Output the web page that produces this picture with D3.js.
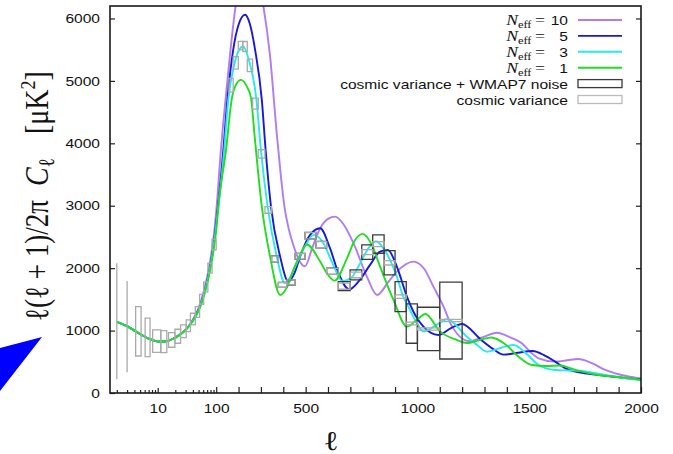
<!DOCTYPE html>
<html>
<head>
<meta charset="utf-8">
<script src="https://cdn.jsdelivr.net/npm/d3@7"></script>
<style>
  body { margin: 0; background: #fff; }
  svg { display: block; }
  .lbl { font-family: "Liberation Sans", Arial, Helvetica, sans-serif; font-size: 13.2px; fill: #111; }
  .serif { font-family: "Liberation Serif", "DejaVu Serif", serif; fill: #111; }
</style>
</head>
<body>
<svg id="chart" width="673" height="454"></svg>
<script>
// ---- data: [multipole l, l(l+1)C_l/2pi in uK^2] ----
// low-l part is shared by all four models
const lowEll = [[2, 1140], [3, 1070], [4, 1000], [5, 945], [7, 870], [9, 835], [11, 822],
  [14, 830], [18, 865], [24, 935], [30, 1010]];

const neff10 = [[40, 1175], [50, 1360], [60, 1600], [70, 1860], [80, 2150], [90, 2480], [100, 2900],
  [121, 3895], [150, 5000], [187, 6200], [215, 6680], [250, 6900], [280, 6740], [311, 6200],
  [340, 5430], [371, 4150], [390, 3450], [405, 2990], [425, 2620], [445, 2370], [470, 2130],
  [497, 2030], [530, 2330], [565, 2640], [600, 2790], [632, 2826], [670, 2700], [714, 2400],
  [774, 1864], [820, 1571], [870, 1780], [908, 1944], [982, 2105], [1030, 1990], [1072, 1700],
  [1117, 1383], [1150, 1100], [1176, 957], [1230, 830], [1290, 890], [1356, 965], [1410, 900],
  [1467, 797], [1510, 640], [1542, 556], [1617, 502], [1670, 525], [1718, 545], [1780, 480],
  [1840, 369], [1900, 300], [1950, 260], [2000, 232]];

const neff5 = [[40, 1165], [50, 1335], [60, 1550], [70, 1790], [80, 2060], [90, 2370], [100, 2720],
  [132, 3895], [150, 4697], [176, 5498], [200, 5900], [229, 6060], [250, 5920], [274, 5498],
  [304, 4697], [321, 3895], [345, 2986], [386, 2185], [423, 1784], [450, 1920], [475, 2185],
  [520, 2533], [565, 2640], [609, 2320], [647, 1919], [695, 1660], [740, 1800], [788, 2052],
  [833, 2265], [868, 2290], [908, 2025], [953, 1544], [990, 1250], [1027, 1063], [1094, 930],
  [1150, 1040], [1199, 1106], [1285, 850], [1344, 690], [1385, 615], [1450, 645], [1515, 673],
  [1570, 600], [1616, 502], [1660, 400], [1706, 342], [1760, 310], [1810, 289], [1900, 251],
  [2000, 219]];

const neff3 = [[40, 1160], [50, 1325], [60, 1540], [70, 1775], [80, 2040], [90, 2340], [100, 2680],
  [136, 3895], [154, 4697], [180, 5250], [200, 5480], [221, 5551], [245, 5350], [280, 4697],
  [300, 3895], [330, 2986], [371, 2185], [407, 1760], [430, 1850], [460, 2079], [505, 2400],
  [535, 2533], [580, 2400], [617, 2105], [665, 1790], [705, 1850], [744, 2079], [781, 2320],
  [815, 2430], [860, 2250], [908, 1864], [935, 1560], [967, 1330], [1000, 1100], [1027, 983],
  [1080, 1080], [1132, 1181], [1221, 902], [1270, 760], [1311, 662], [1370, 720], [1430, 769],
  [1490, 620], [1542, 449], [1580, 390], [1617, 369], [1680, 360], [1736, 353], [1790, 320],
  [1840, 289], [1930, 235], [2000, 208]];

const neff1 = [[40, 1155], [50, 1315], [60, 1520], [70, 1750], [80, 2000], [90, 2280], [100, 2600],
  [110, 3000], [144, 3895], [169, 4697], [190, 4950], [211, 5017], [235, 4925], [256, 4720],
  [271, 4150], [304, 2986], [341, 2185], [386, 1571], [420, 1720], [445, 1972], [475, 2212],
  [505, 2380], [565, 2105], [595, 1919], [630, 1800], [684, 2150], [721, 2450], [755, 2550],
  [795, 2380], [833, 2025], [893, 1491], [953, 1063], [1000, 1180], [1035, 1265], [1102, 983],
  [1176, 850], [1220, 800], [1280, 850], [1330, 890], [1390, 790], [1452, 582], [1512, 449],
  [1572, 433], [1640, 440], [1690, 390], [1736, 342], [1810, 289], [1877, 265], [1940, 240],
  [2000, 208]];

const neffLabels = ['10', '5', '3', '1'];
const neffColors = ['#b07cf2', '#1818d8', '#29e9ee', '#22dd22'];

// binned error boxes: l range, centre value, cosmic-variance and total (cv + WMAP7 noise) half-heights
const binLo = [2, 3, 4.2, 6.1, 8.2, 11.3, 15.3, 19.7, 24.6, 30.7, 36.3, 44, 52, 61, 72, 85,
  157, 176, 199, 219, 239, 263, 288, 318, 348, 378, 416, 453, 497, 546, 594, 646, 699, 751, 800, 851,
  900, 950, 1000, 1100];
const binHi = [2, 3, 5.2, 7.4, 11.3, 14.3, 19.7, 24.6, 30.7, 36.3, 44, 52, 61, 72, 85, 100,
  176, 199, 219, 239, 263, 288, 318, 348, 378, 416, 453, 497, 546, 594, 646, 699, 751, 800, 851, 900,
  950, 1000, 1100, 1200];
const binMid = [1150, 1063, 988, 890, 831, 823, 850, 909, 988, 1077, 1184, 1298, 1500, 1700, 2000, 2380,
  4930, 5290, 5565, 5551, 5250, 4636, 3830, 2933, 2150, 1731, 1771, 2190, 2520, 2377,
  1950, 1712, 1891, 2257, 2386, 2086, 1544, 1112, 1026, 1160];
const cvErr = [930, 731, 395, 308, 179, 176, 117, 112, 102, 94, 94, 85, 80, 80, 80, 85,
  110, 100, 67, 80, 100, 89, 67, 53, 46, 37, 40, 45, 50, 48, 48, 50, 45, 40, 40, 35, 28, 22, 18, 18];
const totErr = [null, null, null, null, null, null, null, null, null, null, null, null, null, null, null,
  null, null, null, null, null, null, null, null, null, 50, 40, 42, 48, 52, 52, 50, 72,
  80, 115, 147, 195, 240, 315, 348, 615];

const yTicks = [0, 1000, 2000, 3000, 4000, 5000, 6000];
const xLogTicks = [2, 3, 4, 5, 6, 7, 8, 9, 10, 20, 30, 40, 50, 60, 70, 80, 90];
const xLinTicks = d3.range(100, 2001, 100);
const xLabels = [10, 100, 500, 1000, 1500, 2000];

// ---- layout ----
const margin = { top: 6, left: 110 };
const plotRight = 641;
const plotBottom = 393;
const breakX = 216.2;   // where the log part hands over to the linear part
const stretch = 1.18;   // the original figure's text is stretched sideways

const svg = d3.select('#chart');

const xLog = d3.scaleLog().domain([1.53, 100]).range([margin.left, breakX]);
const xLin = d3.scaleLinear().domain([100, 2000]).range([breakX, plotRight]);
const x = l => (l < 100 ? xLog(l) : xLin(l));
const y = d3.scaleLinear().domain([0, 6200]).range([plotBottom, margin.top]);

svg.append('defs').append('clipPath').attr('id', 'plotclip')
  .append('rect')
    .attr('x', margin.left)
    .attr('y', margin.top)
    .attr('width', plotRight - margin.left)
    .attr('height', plotBottom - margin.top);

// curves
const line = d3.line()
  .x(d => x(d[0]))
  .y(d => y(d[1]))
  .curve(d3.curveMonotoneX);

const curves = [neff10, neff5, neff3, neff1];
const plot = svg.append('g').attr('clip-path', 'url(#plotclip)');

plot.selectAll('path.model')
  .data(curves)
  .enter().append('path')
    .attr('class', 'model')
    .attr('d', d => line(lowEll.concat(d)))
    .attr('fill', 'none')
    .attr('stroke', (d, i) => neffColors[i])
    .attr('stroke-width', 1.9)
    .attr('stroke-linejoin', 'round');

// error boxes (drawn as paths so that single-l bins show as lines)
const boxPath = (i, err) => {
  const x0 = x(binLo[i]);
  const x1 = x(binHi[i]);
  const y0 = y(binMid[i] + err);
  const y1 = y(binMid[i] - err);
  return `M${x0},${y0}H${x1}V${y1}H${x0}Z`;
};

const idx = d3.range(binLo.length);

plot.selectAll('path.noise')
  .data(idx.filter(i => totErr[i] !== null))
  .enter().append('path')
    .attr('class', 'noise')
    .attr('d', i => boxPath(i, totErr[i]))
    .attr('fill', 'none')
    .attr('stroke', '#3a3a3a')
    .attr('stroke-width', 1.3);

plot.selectAll('path.cv')
  .data(idx)
  .enter().append('path')
    .attr('class', 'cv')
    .attr('d', i => boxPath(i, cvErr[i]))
    .attr('fill', 'none')
    .attr('stroke', '#aaaaaa')
    .attr('stroke-width', 1.3);

// axes
const yAxis = d3.axisLeft(y)
  .tickValues(yTicks)
  .tickSizeInner(-5)
  .tickSizeOuter(0)
  .tickPadding(10)
  .tickFormat(d3.format('d'));

const gy = svg.append('g')
  .attr('transform', `translate(${margin.left},0)`)
  .call(yAxis);
gy.select('.domain').remove();
gy.selectAll('line').attr('stroke', '#222').attr('stroke-width', 1.2);
gy.selectAll('text')
  .attr('class', 'lbl')
  .attr('x', -10 / stretch)
  .attr('transform', `scale(${stretch},1)`);

const gyr = svg.append('g')
  .attr('transform', `translate(${plotRight},0)`)
  .call(d3.axisRight(y).tickValues(yTicks.slice(1)).tickSizeInner(-5).tickSizeOuter(0).tickFormat(''));
gyr.select('.domain').remove();
gyr.selectAll('line').attr('stroke', '#222').attr('stroke-width', 1.2);

const gxLog = svg.append('g')
  .attr('transform', `translate(0,${plotBottom})`)
  .call(d3.axisBottom(xLog).tickValues(xLogTicks).tickSizeInner(-3).tickSizeOuter(0)
    .tickPadding(11).tickFormat(d => (xLabels.includes(d) ? d : '')));
gxLog.select('.domain').remove();
gxLog.selectAll('.tick line')
  .attr('y2', d => (d === 10 ? -5 : -3))
  .attr('stroke', '#222').attr('stroke-width', 1.2);

const gxLin = svg.append('g')
  .attr('transform', `translate(0,${plotBottom})`)
  .call(d3.axisBottom(xLin).tickValues(xLinTicks).tickSizeInner(-6).tickSizeOuter(0)
    .tickPadding(11).tickFormat(d => (xLabels.includes(d) ? d : '')));
gxLin.select('.domain').remove();
gxLin.selectAll('.tick line').attr('stroke', '#222').attr('stroke-width', 1.2);

[gxLog, gxLin].forEach(g => {
  g.selectAll('text')
    .attr('class', 'lbl')
    .attr('transform', `scale(${stretch},1)`);
});

// frame
svg.append('rect')
  .attr('x', margin.left)
  .attr('y', margin.top)
  .attr('width', plotRight - margin.left)
  .attr('height', plotBottom - margin.top)
  .attr('fill', 'none')
  .attr('stroke', '#1a1a1a')
  .attr('stroke-width', 1.6);

// axis titles
const yTitle = svg.append('g')
  .attr('class', 'serif')
  .attr('transform', `translate(48,0) scale(${stretch},1) rotate(-90)`)
  .attr('font-size', 28);

yTitle.append('text')
  .attr('x', -321)
  .attr('textLength', 121)
  .attr('lengthAdjust', 'spacingAndGlyphs')
  .text('ℓ(ℓ + 1)/2π');

const cText = yTitle.append('text').attr('x', -186);
cText.append('tspan').attr('font-style', 'italic').text('C');
cText.append('tspan').attr('font-size', 19).attr('dy', 5).text('ℓ');

const unitText = yTitle.append('text').attr('x', -134);
unitText.append('tspan').text('[μK');
unitText.append('tspan').attr('font-size', 18).attr('dy', -11).text('2');
unitText.append('tspan').attr('dy', 11).text(']');

svg.append('g')
  .attr('class', 'serif')
  .attr('transform', `translate(331,450) scale(${stretch},1)`)
  .append('text')
    .attr('text-anchor', 'middle')
    .attr('font-size', 27)
    .text('ℓ');

// legend
const legendY = d3.range(6).map(i => 20 + i * 15.9);
const legendTextX = 568;
const legendSym = [578, 622];

neffLabels.forEach((lab, i) => {
  const ry = legendY[i];
  const nt = svg.append('g')
    .attr('transform', `translate(545,${ry + 5}) scale(${stretch},1)`)
    .append('text')
      .attr('class', 'serif')
      .attr('text-anchor', 'end');
  nt.append('tspan').attr('font-style', 'italic').attr('font-size', 15).text('N');
  nt.append('tspan').attr('font-size', 10.5).attr('dy', 3).text('eff');
  nt.append('tspan').attr('font-size', 15).attr('dy', -3).attr('dx', 3).text('=');

  svg.append('g')
    .attr('transform', `translate(${legendTextX},${ry + 5}) scale(${stretch},1)`)
    .append('text')
      .attr('class', 'lbl')
      .attr('text-anchor', 'end')
      .text(lab);

  svg.append('line')
    .attr('x1', legendSym[0]).attr('x2', legendSym[1])
    .attr('y1', ry).attr('y2', ry)
    .attr('stroke', neffColors[i])
    .attr('stroke-width', 1.9);
});

const boxLegend = [['cosmic variance + WMAP7 noise', '#3a3a3a'], ['cosmic variance', '#bbbbbb']];
boxLegend.forEach((b, j) => {
  const ry = legendY[4 + j];
  svg.append('g')
    .attr('transform', `translate(${legendTextX},${ry + 5}) scale(${stretch},1)`)
    .append('text')
      .attr('class', 'lbl')
      .attr('text-anchor', 'end')
      .text(b[0]);
  svg.append('rect')
    .attr('x', legendSym[0])
    .attr('y', ry - 4)
    .attr('width', legendSym[1] - legendSym[0])
    .attr('height', 8)
    .attr('fill', 'none')
    .attr('stroke', b[1])
    .attr('stroke-width', 1.3);
});

// stray arrow head at the left edge of the original figure
const arrowHead = [[0, 348], [42, 337], [0, 391]];
svg.append('polygon')
  .attr('points', arrowHead.map(p => p.join(',')).join(' '))
  .attr('fill', '#0000ff');
</script>
</body>
</html>
